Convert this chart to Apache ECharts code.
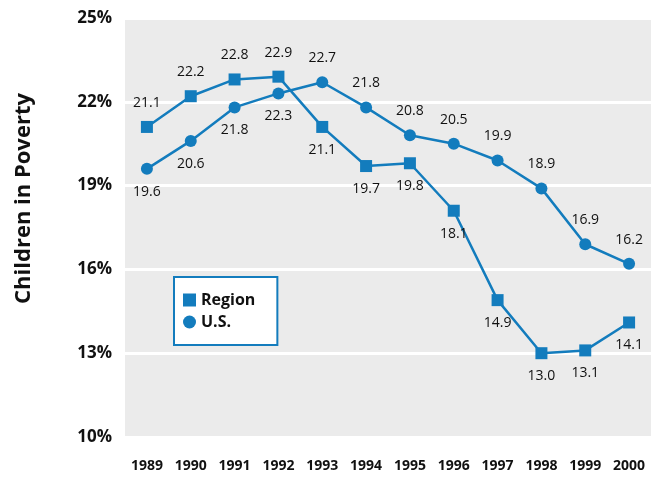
<!DOCTYPE html>
<html><head><meta charset="utf-8">
<script src="https://cdn.jsdelivr.net/npm/echarts@6/dist/echarts.min.js"></script>
<style>html,body{margin:0;padding:0;background:#fff}#c{width:661px;height:481px}</style>
</head><body><div id="c"></div>
<script>
var years = ['1989','1990','1991','1992','1993','1994','1995','1996','1997','1998','1999','2000'];
var region = [21.1, 22.2, 22.8, 22.9, 21.1, 19.7, 19.8, 18.1, 14.9, 13.0, 13.1, 14.1];
var us = [19.6, 20.6, 21.8, 22.3, 22.7, 21.8, 20.8, 20.5, 19.9, 18.9, 16.9, 16.2];
var blue = '#137cbd';
var font = '"Open Sans", "Noto Sans", sans-serif';
function mk(vals, aboveUntil, above) {
  return vals.map(function (v, i) {
    var up = (i < aboveUntil) === above;
    return { value: v, label: { position: up ? 'top' : 'bottom', distance: up ? 11 : 10 } };
  });
}
var chart = echarts.init(document.getElementById('c'), null, {renderer: 'canvas'});
chart.setOption({
  animation: false,
  textStyle: { fontFamily: font },
  grid: { left: 125, right: 10, top: 18, bottom: 44, show: true, backgroundColor: '#ebebeb', borderWidth: 0 },
  legend: {
    orient: 'vertical', left: 174, top: 277, itemWidth: 13, itemHeight: 13, itemGap: 6,
    padding: [15, 22, 15, 9], backgroundColor: '#fff', borderColor: blue, borderWidth: 2,
    textStyle: { fontFamily: font, fontWeight: 'bold', fontSize: 16, color: '#111' },
    data: [{ name: 'Region', icon: 'rect' }, { name: 'U.S.', icon: 'circle' }]
  },
  xAxis: {
    type: 'category', data: years, boundaryGap: true,
    axisLine: { show: false }, axisTick: { show: false },
    axisLabel: { margin: 22, fontFamily: font, fontWeight: 'bold', fontSize: 14, color: '#111', interval: 0 }
  },
  yAxis: {
    type: 'value', min: 10, max: 25, interval: 3,
    name: 'Children in Poverty', nameLocation: 'middle', nameGap: 90,
    nameTextStyle: { fontFamily: font, fontWeight: 'bold', fontSize: 22, color: '#111', padding: [0, 0, 0, 58] },
    axisLine: { show: false }, axisTick: { show: false },
    axisLabel: { margin: 13, formatter: '{value}%', fontFamily: font, fontWeight: 'bold', fontSize: 17, color: '#111' },
    splitLine: { lineStyle: { color: '#fff', width: 3 } }
  },
  series: [
    { name: 'Region', type: 'line', data: mk(region, 4, true), symbol: 'rect', symbolSize: 12,
      itemStyle: { color: blue }, lineStyle: { color: blue, width: 2.5 },
      label: { show: true, formatter: function (p) { return p.value.toFixed(1); }, fontFamily: font, fontSize: 14, color: '#111' } },
    { name: 'U.S.', type: 'line', data: mk(us, 4, false), symbol: 'circle', symbolSize: 12,
      itemStyle: { color: blue }, lineStyle: { color: blue, width: 2.5 },
      label: { show: true, formatter: function (p) { return p.value.toFixed(1); }, fontFamily: font, fontSize: 14, color: '#111' } }
  ]
});
</script></body></html>
